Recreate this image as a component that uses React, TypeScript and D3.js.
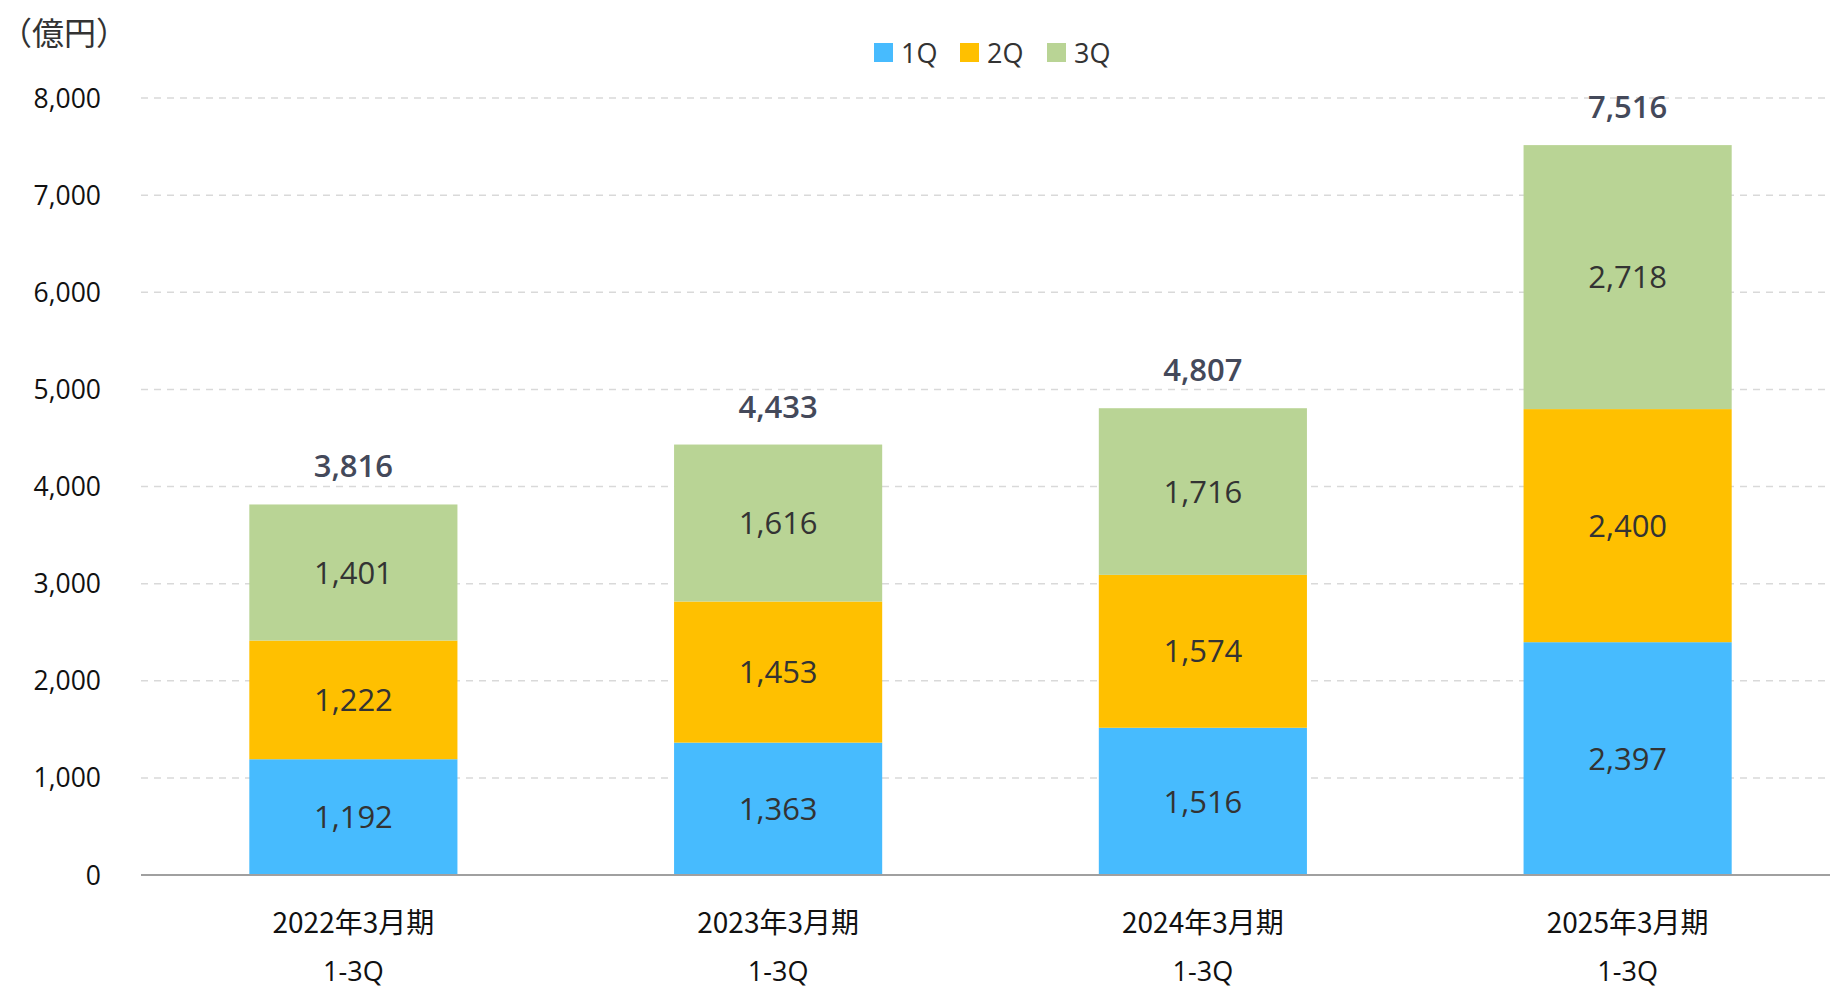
import { useEffect, useRef } from "react";
import * as d3 from "d3";

// ── Data ──────────────────────────────────────────────────────────────────────

const CATEGORIES = ["2022年3月期", "2023年3月期", "2024年3月期", "2025年3月期"];
const SUB_LABEL  = "1-3Q";
const SERIES     = ["1Q", "2Q", "3Q"];
const Q1         = [1192, 1363, 1516, 2397];
const Q2         = [1222, 1453, 1574, 2400];
const Q3         = [1401, 1616, 1716, 2718];
const TOTALS     = [3816, 4433, 4807, 7516];
const Y_TICKS    = [0, 1000, 2000, 3000, 4000, 5000, 6000, 7000, 8000];

// ── Config ────────────────────────────────────────────────────────────────────

const WIDTH  = 1830;
const HEIGHT = 989;
const COLORS = ["#47BBFE", "#FFC000", "#B9D495"];
const FONT   = "'Open Sans', 'Noto Sans CJK JP', sans-serif";
const JP_FONT = "'Noto Sans CJK JP', sans-serif";

const PLOT = { left: 141, right: 1840, top: 98, bottom: 875 };

// ── Component ─────────────────────────────────────────────────────────────────

const App = () => {
  const svgRef = useRef<SVGSVGElement>(null);

  useEffect(() => {
    document.body.style.margin = "0";
    if (!svgRef.current) return;

    const svg = d3.select(svgRef.current);
    svg.selectAll("*").remove();

    const x = d3.scaleBand<string>()
      .domain(CATEGORIES)
      .range([PLOT.left, PLOT.right])
      .paddingInner(0.51)
      .paddingOuter(0.255);

    const y = d3.scaleLinear()
      .domain([0, 8000])
      .range([PLOT.bottom, PLOT.top]);

    // Grid lines
    svg.append("g")
      .selectAll("line")
      .data(Y_TICKS.filter((t) => t > 0))
      .join("line")
      .attr("x1", PLOT.left)
      .attr("x2", WIDTH)
      .attr("y1", (d) => y(d))
      .attr("y2", (d) => y(d))
      .attr("stroke", "#d9d9d9")
      .attr("stroke-width", 1.5)
      .attr("stroke-dasharray", "7,6");

    // Y labels
    svg.append("g")
      .selectAll("text")
      .data(Y_TICKS)
      .join("text")
      .attr("x", 101)
      .attr("y", (d) => y(d))
      .attr("dy", "0.36em")
      .attr("text-anchor", "end")
      .attr("font-family", FONT)
      .attr("font-size", 26.5)
      .attr("fill", "#111")
      .text((d) => d3.format(",")(d));

    // Stacked bars
    const rows = CATEGORIES.map((c, i) => ({ cat: c, "1Q": Q1[i], "2Q": Q2[i], "3Q": Q3[i] }));
    const stacked = d3.stack<any>().keys(SERIES)(rows);

    stacked.forEach((layer, li) => {
      const g = svg.append("g");
      g.selectAll("rect")
        .data(layer)
        .join("rect")
        .attr("x", (d) => x(d.data.cat) ?? 0)
        .attr("width", x.bandwidth())
        .attr("y", (d) => y(d[1]))
        .attr("height", (d) => y(d[0]) - y(d[1]))
        .attr("fill", COLORS[li]);

      g.selectAll("text")
        .data(layer)
        .join("text")
        .attr("x", (d) => (x(d.data.cat) ?? 0) + x.bandwidth() / 2)
        .attr("y", (d) => (y(d[0]) + y(d[1])) / 2)
        .attr("dy", "0.36em")
        .attr("text-anchor", "middle")
        .attr("font-family", FONT)
        .attr("font-size", 31)
        .attr("fill", "#333")
        .text((d) => d3.format(",")(d[1] - d[0]));
    });

    // Totals
    svg.append("g")
      .selectAll("text")
      .data(CATEGORIES)
      .join("text")
      .attr("x", (d) => (x(d) ?? 0) + x.bandwidth() / 2)
      .attr("y", (_, i) => y(d3.sum([Q1[i], Q2[i], Q3[i]])) - 27)
      .attr("text-anchor", "middle")
      .attr("font-family", FONT)
      .attr("font-size", 31)
      .attr("font-weight", 600)
      .attr("fill", "#44495a")
      .text((_, i) => d3.format(",")(TOTALS[i]));

    // Axis line
    svg.append("line")
      .attr("x1", PLOT.left)
      .attr("x2", WIDTH)
      .attr("y1", y(0))
      .attr("y2", y(0))
      .attr("stroke", "#a0a0a0")
      .attr("stroke-width", 2);

    // X labels
    const xl = svg.append("g")
      .selectAll("g")
      .data(CATEGORIES)
      .join("g")
      .attr("transform", (d) => `translate(${(x(d) ?? 0) + x.bandwidth() / 2},0)`);

    xl.append("text")
      .attr("y", 923)
      .attr("dy", "0.36em")
      .attr("text-anchor", "middle")
      .attr("font-family", JP_FONT)
      .attr("font-size", 28)
      .attr("fill", "#111")
      .text((d) => d);

    // baseline sits low, as in the reference (the Q tail touches the bottom edge)
    xl.append("text")
      .attr("y", 981)
      .attr("text-anchor", "middle")
      .attr("font-family", FONT)
      .attr("font-size", 27)
      .attr("fill", "#111")
      .text(SUB_LABEL);

    // Unit label
    svg.append("text")
      .attr("x", 0)
      .attr("y", 33)
      .attr("dy", "0.36em")
      .attr("font-family", JP_FONT)
      .attr("font-size", 32)
      .attr("fill", "#333")
      .text("（億円）");

    // Legend
    const LEG_X = [874, 960, 1047];
    const leg = svg.append("g")
      .selectAll("g")
      .data(SERIES)
      .join("g")
      .attr("transform", (_, i) => `translate(${LEG_X[i]},43)`);

    leg.append("rect")
      .attr("width", 19)
      .attr("height", 19)
      .attr("fill", (_, i) => COLORS[i]);

    leg.append("text")
      .attr("x", 27)
      .attr("y", 10)
      .attr("dy", "0.36em")
      .attr("font-family", FONT)
      .attr("font-size", 27)
      .attr("fill", "#333")
      .text((d) => d);
  }, []);

  return <svg ref={svgRef} width={WIDTH} height={HEIGHT} style={{ display: "block" }} />;
};

export default App;
